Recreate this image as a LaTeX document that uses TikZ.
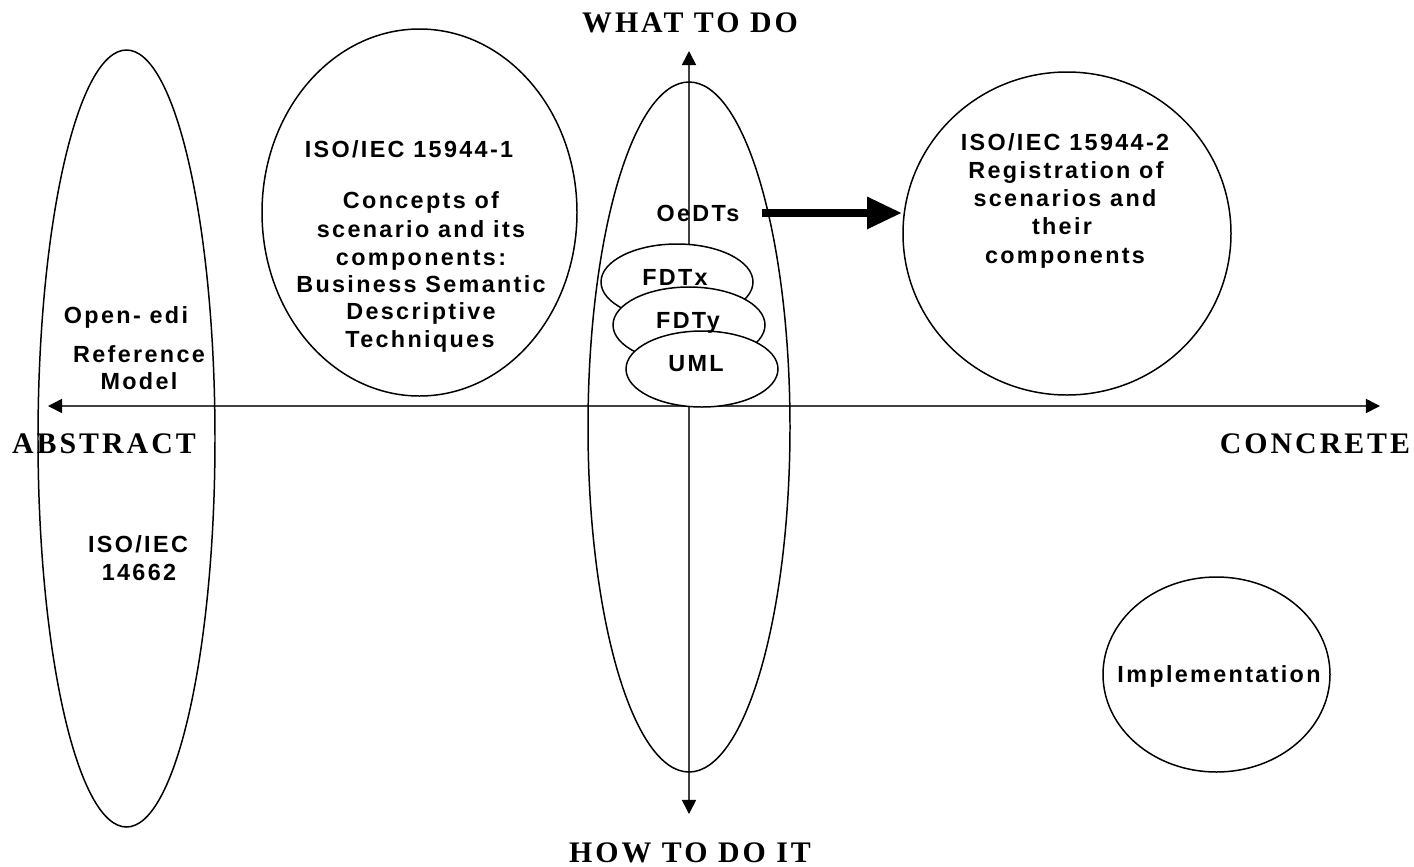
\documentclass[tikz,border=0pt]{standalone}
\usepackage{fontspec}
\setmainfont{Liberation Serif}
\newfontfamily\lblsans[LetterSpace=10]{Liberation Sans}
\newfontfamily\lblserif[LetterSpace=10]{Liberation Serif}
\usetikzlibrary{shapes.geometric,arrows.meta}
\tikzset{
  oval/.style={draw, line width=0.85pt, ellipse, inner sep=0pt},
  smalloval/.style={oval, fill=white, minimum width=152*0.02cm, minimum height=76*0.02cm},
  lbl/.style={font=\lblsans\bfseries\fontsize{13.3pt}{15.8pt}\selectfont, anchor=base, inner sep=0pt},
  axislbl/.style={font=\lblserif\bfseries\fontsize{17pt}{20pt}\selectfont, anchor=base, inner sep=0pt},
  axisline/.style={line width=0.9pt, black!75, {Triangle[length=8pt,width=8pt,fill=black,color=black]}-{Triangle[length=8pt,width=8pt,fill=black,color=black]}},
  bigarrow/.style={line width=5pt, -{Triangle[length=20pt,width=17pt]}}
}
\begin{document}
\begin{tikzpicture}[x=0.02cm,y=-0.02cm]
\useasboundingbox (0,0) rectangle (1414,866);
% axes
\coordinate (hleft) at (48,406);
\coordinate (hright) at (1380,406);
\coordinate (vtop) at (689,51);
\coordinate (vbottom) at (689,814);
\draw[axisline] (hleft) -- (hright);
\draw[axisline] (vtop) -- (vbottom);
% big ellipses
\node[oval, minimum width=177*0.02cm, minimum height=777*0.02cm] (leftov) at (126.5,438.5) {};
\node[oval, minimum width=315*0.02cm, minimum height=367*0.02cm] (iso1) at (419.5,212.5) {};
\node[oval, minimum width=202*0.02cm, minimum height=690*0.02cm] (midov) at (689,427) {};
\node[oval, minimum width=328*0.02cm, minimum height=323*0.02cm] (iso2) at (1067,233.5) {};
\node[oval, minimum width=227*0.02cm, minimum height=195*0.02cm] (impl) at (1216.5,674.5) {};
% small ellipses
\node[smalloval] (fdtx) at (677,282) {};
\node[smalloval] (fdty) at (689,325) {};
\node[smalloval] (uml) at (702,369) {};
% left texts
\node[lbl] (t1) at (126,323) {Open- edi};
\node[lbl] (t2) at (139,362) {Reference};
\node[lbl] (t3) at (139,389) {Model};
\node[lbl] (t4) at (138,552) {ISO/IEC};
\node[lbl] (t5) at (139,580) {14662};
% ISO 15944-1 texts
\node[lbl] (a1) at (409,157) {ISO/IEC 15944-1};
\node[lbl] (a2) at (421,208) {Concepts of};
\node[lbl] (a3) at (421,237) {scenario and its};
\node[lbl] (a4) at (421,265) {components:};
\node[lbl] (a5) at (421,292) {Business Semantic};
\node[lbl] (a6) at (421,319) {Descriptive};
\node[lbl] (a7) at (420,347) {Techniques};
% middle texts
\node[lbl] (oedts) at (698,221) {OeDTs};
\node[lbl] (fx) at (675,285) {FDTx};
\node[lbl] (fy) at (688,328) {FDTy};
\node[lbl] (fu) at (696,371) {UML};
% ISO 15944-2 texts
\node[lbl] (b1) at (1065,150) {ISO/IEC 15944-2};
\node[lbl] (b2) at (1066,178) {Registration of};
\node[lbl] (b3) at (1065,206) {scenarios and};
\node[lbl] (b4) at (1062,234) {their};
\node[lbl] (b5) at (1065,263) {components};
\node[lbl] (c1) at (1219,682) {Implementation};
% axis labels
\node[axislbl] (what) at (690,32) {WHAT TO DO};
\node[axislbl] (abs) at (104,453) {ABSTRACT};
\node[axislbl] (conc) at (1315,453) {CONCRETE};
\node[axislbl] (how) at (690,862) {HOW TO DO IT};
% thick arrow
\draw[bigarrow] ([xshift=22*0.02cm]oedts.east) -- (oedts.east -| iso2.west);
\end{tikzpicture}
\end{document}
